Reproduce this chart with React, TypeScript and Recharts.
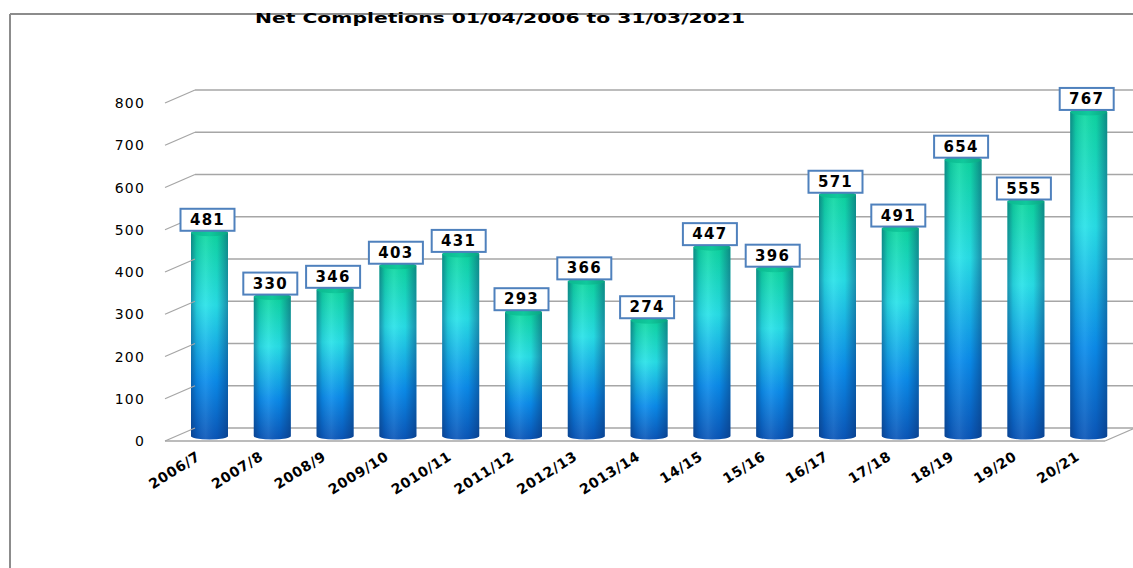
import React from 'react';
import { BarChart, Bar, XAxis, YAxis, CartesianGrid, LabelList } from 'recharts';

const categories = ['2006/7', '2007/8', '2008/9', '2009/10', '2010/11', '2011/12', '2012/13', '2013/14', '14/15', '15/16', '16/17', '17/18', '18/19', '19/20', '20/21'];
const completions = [481, 330, 346, 403, 431, 293, 366, 274, 447, 396, 571, 491, 654, 555, 767];
const yTicks = [0, 100, 200, 300, 400, 500, 600, 700, 800];
const title = 'Net Completions 01/04/2006 to 31/03/2021';

const data = categories.map((c, i) => ({ cat: c, value: completions[i] }));

const GRID = '#a6a6a6';
const FONT = '"DejaVu Sans", Verdana, sans-serif';

const Cylinder = (props: any) => {
  const { x, y, width, height } = props;
  if (width == null || height == null) return null;
  const rx = width / 2;
  const ry = 3.5;
  const cx = x + rx;
  const bottom = y + height;
  const d = `M ${x},${y} L ${x},${bottom} A ${rx},${ry} 0 0 0 ${x + width},${bottom} L ${x + width},${y} Z`;
  return (
    <g>
      <path d={d} fill="url(#cylV)" />
      <path d={d} fill="url(#cylH)" />
      <ellipse cx={cx} cy={y} rx={rx} ry={ry} fill="url(#cylTop)" />
    </g>
  );
};

const ValueLabel = (props: any) => {
  const { x, y, width, value } = props;
  const cx = x + width / 2 - 2;
  const w = 54;
  const h = 22;
  return (
    <g>
      <rect x={cx - w / 2} y={y - h - 2} width={w} height={h} fill="#ffffff" stroke="#4f81bd" strokeWidth={2} />
      <text x={cx} y={y - 13} textAnchor="middle" dominantBaseline="central" fontFamily={FONT} fontWeight="bold" fontSize={15} letterSpacing={1.3} fill="#000">
        {value}
      </text>
    </g>
  );
};

const YTick = (props: any) => {
  const { y, payload } = props;
  const isZero = payload.value === 0;
  return (
    <g>
      <line x1={165} y1={y + 5} x2={195} y2={y - 8} stroke={GRID} strokeWidth={1.3} />
      {isZero && (
        <>
          <line x1={165} y1={y + 5} x2={1105} y2={y + 5} stroke={GRID} strokeWidth={1.3} />
          <line x1={1105} y1={y + 5} x2={1135} y2={y - 8} stroke={GRID} strokeWidth={1.3} />
        </>
      )}
      <text x={145} y={y + 5} textAnchor="end" dominantBaseline="central" fontFamily={FONT} fontSize={14} letterSpacing={1.2} fill="#000">
        {payload.value}
      </text>
    </g>
  );
};

const XTick = (props: any) => {
  const { x, payload } = props;
  const tx = x - 8;
  const ty = 459;
  return (
    <text x={tx} y={ty} textAnchor="end" transform={`rotate(-32 ${tx} ${ty})`} fontFamily={FONT} fontWeight="bold" fontSize={14} letterSpacing={0.6} fill="#000">
      {payload.value}
    </text>
  );
};

const GridLine = (p: any) => (
  <line key={`g-${p.index}-${p.y1}`} x1={195} x2={1133} y1={p.y1 - 8} y2={p.y2 - 8} stroke={GRID} strokeWidth={1.3} />
);

export default function App() {
  return (
    <div style={{ position: 'absolute', left: 0, top: 0, width: 1133, height: 568, background: '#fff', overflow: 'hidden' }}>
      <svg width={0} height={0} style={{ position: 'absolute' }}>
        <defs>
          <linearGradient id="cylV" x1="0" y1="0" x2="0" y2="1">
            <stop offset="0%" stopColor="#0ed8a0" />
            <stop offset="35%" stopColor="#28e2e8" />
            <stop offset="72%" stopColor="#0a8ceb" />
            <stop offset="100%" stopColor="#0a56b8" />
          </linearGradient>
          <linearGradient id="cylH" x1="0" y1="0" x2="1" y2="0">
            <stop offset="0%" stopColor="#0a2a60" stopOpacity={0.45} />
            <stop offset="15%" stopColor="#0a2a60" stopOpacity={0.12} />
            <stop offset="40%" stopColor="#ffffff" stopOpacity={0.08} />
            <stop offset="70%" stopColor="#0a2a60" stopOpacity={0.05} />
            <stop offset="100%" stopColor="#0a2a60" stopOpacity={0.45} />
          </linearGradient>
          <linearGradient id="cylTop" x1="0" y1="0" x2="1" y2="0">
            <stop offset="0%" stopColor="#0cb88f" />
            <stop offset="50%" stopColor="#10c99c" />
            <stop offset="100%" stopColor="#0aa583" />
          </linearGradient>
        </defs>
      </svg>
      <svg width={1133} height={568} style={{ position: 'absolute', left: 0, top: 0 }}>
        <line x1={10} y1={14} x2={10} y2={568} stroke="#8c8c8c" strokeWidth={2} />
        <line x1={10} y1={14} x2={1133} y2={14} stroke="#8c8c8c" strokeWidth={2} />
        <text x={500} y={23} textAnchor="middle" textLength={490} lengthAdjust="spacingAndGlyphs" fontFamily={FONT} fontWeight="bold" fontSize={14} fill="#000">
          {title}
        </text>
      </svg>
      <div style={{ position: 'absolute', left: 0, top: 0 }}>
        <BarChart width={1133} height={568} data={data} margin={{ top: 98, right: 13, bottom: 0, left: 0 }} barSize={37}>
          <CartesianGrid vertical={false} horizontal={GridLine} />
          <YAxis width={178} domain={[0, 800]} ticks={yTicks} axisLine={false} tickLine={false} tick={<YTick />} interval={0} />
          <XAxis dataKey="cat" height={132} axisLine={false} tickLine={false} interval={0} tick={<XTick />} />
          <Bar dataKey="value" shape={<Cylinder />} isAnimationActive={false}>
            <LabelList dataKey="value" content={<ValueLabel />} />
          </Bar>
        </BarChart>
      </div>
    </div>
  );
}
